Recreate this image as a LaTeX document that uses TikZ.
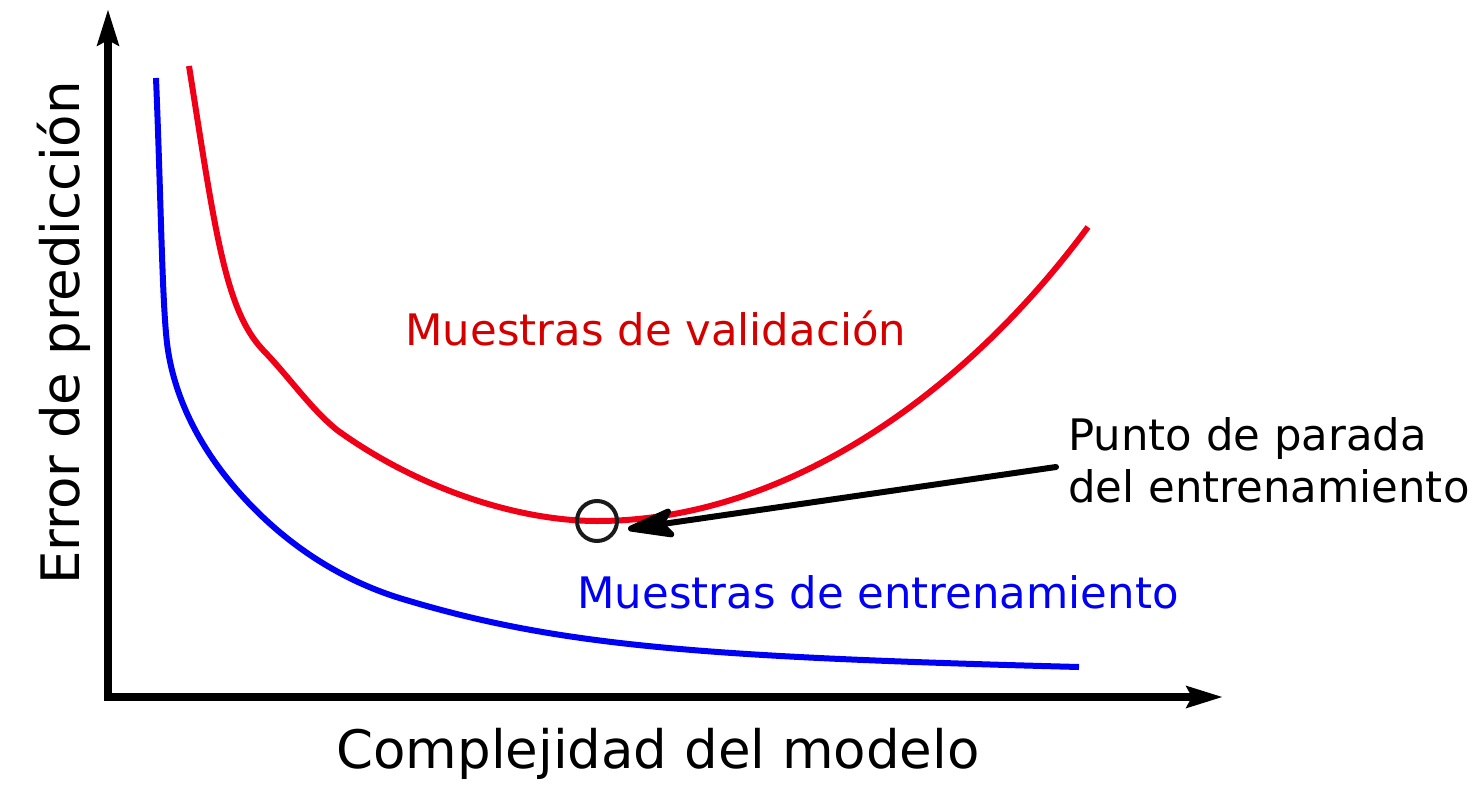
\documentclass[tikz,border=0pt]{standalone}
\usepackage{fontspec}
\setmainfont{DejaVu Sans}
\usetikzlibrary{arrows.meta}
\definecolor{curvered}{RGB}{240,0,22}
\definecolor{textred}{RGB}{212,0,0}
\definecolor{curveblue}{RGB}{0,0,245}
\definecolor{circgray}{RGB}{26,26,26}
\begin{document}
\begin{tikzpicture}[x=0.5pt,y=-0.5pt,
  axisline/.style={line width=4pt,-{Stealth[length=18pt,width=10.5pt,inset=2.5pt]},line join=miter},
  curve/.style={line width=3pt},
  lbl/.style={inner sep=0pt,font=\fontsize{21.7}{26}\selectfont},
  axlbl/.style={inner sep=0pt,font=\fontsize{26.5}{31}\selectfont},
  pointer/.style={line width=3pt,line cap=round,-{Stealth[length=28.5pt,width=16.5pt,inset=6pt,round=false]}}]
\useasboundingbox (0,0) rectangle (1481,786);
% axes
\coordinate (ytop) at (108,9);
\coordinate (origin) at (108,697);
\coordinate (xend) at (1223,697);
\draw[axisline] (origin) -- (ytop);
\draw[axisline] (104,697) -- (xend);
% validation curve
\draw[curve,curvered] (189,66) .. controls (215,230) and (225,310) .. (263,350)
  .. controls (290,378) and (310,408) .. (337,430)
  .. controls (420,490) and (520,521) .. (597,521)
  .. controls (780,521) and (960,400) .. (1088,227);
% training curve
\draw[curve,curveblue] (156,78) .. controls (161,200) and (162,300) .. (167,343)
  .. controls (172,385) and (190,430) .. (223,473)
  .. controls (260,521) and (320,575) .. (406,600)
  .. controls (560,646) and (700,657) .. (1079,667);
% labels
\node[lbl,textred,anchor=base west] (val) at (405,345) {Muestras de validación};
\node[lbl,curveblue,anchor=base west] (ent) at (577,608) {Muestras de entrenamiento};
\node[lbl,anchor=base west,align=left] (stoptxt) at (1068,502) {Punto de parada\\del entrenamiento};
\node[axlbl,anchor=base] (xlbl) at (658,768) {Complejidad del modelo};
\node[axlbl,anchor=base,rotate=90] (ylbl) at (79,333) {Error de predicción};
% stopping point
\node[draw=circgray,line width=2pt,circle,minimum size=20pt,inner sep=0pt] (stop) at (597,521) {};
\coordinate (ptail) at (1056,467);
\coordinate (ptip) at (628,529);
\draw[pointer] (ptail) -- (ptip);
\end{tikzpicture}
\end{document}
